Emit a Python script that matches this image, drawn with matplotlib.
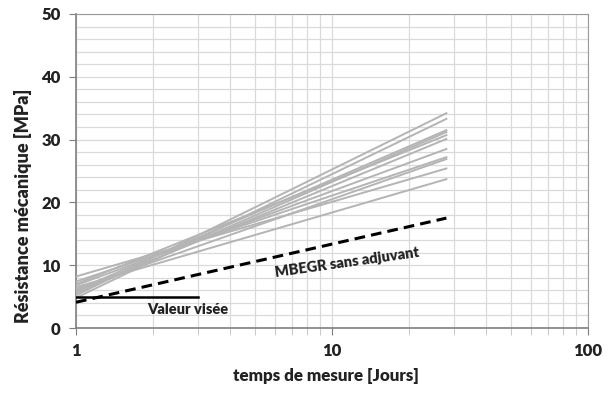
import matplotlib
matplotlib.use("Agg")
import matplotlib.pyplot as plt
from matplotlib.ticker import FixedLocator, NullFormatter, MultipleLocator

plt.rcParams['font.family'] = ['Lato', 'DejaVu Sans']

# Data
days = [1, 28]
starts = [5.2, 4.8, 6.0, 5.5, 7.0, 5.8, 6.8, 7.4, 6.2, 8.2, 6.5]
ends = [34.2, 33.3, 31.5, 31.2, 30.7, 30.1, 28.5, 27.2, 26.9, 25.4, 23.7]
ref_days = [1, 28]
ref_values = [4.1, 17.5]
target_days = [1, 3]
target_values = [5, 5]

fig = plt.figure(figsize=(6.13, 3.94), dpi=100)
ax = fig.add_axes([0.124, 0.1675, 0.835, 0.797])

for s, e in zip(starts, ends):
    ax.plot(days, [s, e], color='#b4b4b4', lw=1.4, zorder=3)
ax.plot(ref_days, ref_values, color='black', lw=2.2, ls=(0, (3.5, 2)), zorder=4)
ax.plot(target_days, target_values, color='black', lw=1.8, zorder=4)

ax.set_xscale('log')
ax.set_xlim(1, 100)
ax.set_ylim(0, 50)
ax.xaxis.set_major_locator(FixedLocator([1, 10, 100]))
ax.set_xticklabels(['1', '10', '100'])
ax.xaxis.set_minor_locator(FixedLocator([k * m for m in (1, 10) for k in range(2, 10)]))
ax.xaxis.set_minor_formatter(NullFormatter())
ax.yaxis.set_major_locator(MultipleLocator(10))
ax.yaxis.set_minor_locator(MultipleLocator(2))

ax.grid(True, which='both', color='#dadada', lw=0.9, zorder=0)
ax.set_axisbelow(True)

for sp in ['top', 'right']:
    ax.spines[sp].set_color('#9a9a9a')
for sp in ['left', 'bottom']:
    ax.spines[sp].set_color('#7f7f7f')
    ax.spines[sp].set_linewidth(1.2)

ax.tick_params(axis='both', which='major', length=5, color='#7f7f7f', labelsize=12, pad=6)
ax.tick_params(axis='x', which='minor', length=5, color='#bfbfbf')
ax.tick_params(axis='y', which='minor', length=0)
for lab in ax.get_xticklabels() + ax.get_yticklabels():
    lab.set_fontweight('heavy')
    lab.set_color('#222222')

xl = ax.set_xlabel('temps de mesure [Jours]', fontsize=12.5, fontweight='heavy', color='#222222', va='center')
yl = ax.set_ylabel('Résistance mécanique [MPa]', fontsize=12.5, fontweight='heavy', color='#222222', va='center')
ax.xaxis.set_label_coords(0.488, -0.153)
ax.yaxis.set_label_coords(-0.1035, 0.389)

# fit label lengths to the reference's
fig.canvas.draw()
r = fig.canvas.get_renderer()
wx = xl.get_window_extent(r).width
xl.set_fontsize(12.5 * 188 / wx)
hy = yl.get_window_extent(r).height
yl.set_fontsize(12.5 * 235 / hy)

ax.text(1.9, 3.0, 'Valeur visée', fontsize=10.5, fontweight='heavy', color='#222222', va='center', ha='left', zorder=5)
ax.text(11.5, 10.5, 'MBEGR sans adjuvant', fontsize=10.5, fontweight='heavy', color='#222222',
        va='center', ha='center', rotation=8, zorder=5)

fig.savefig('out.png', dpi=100)
